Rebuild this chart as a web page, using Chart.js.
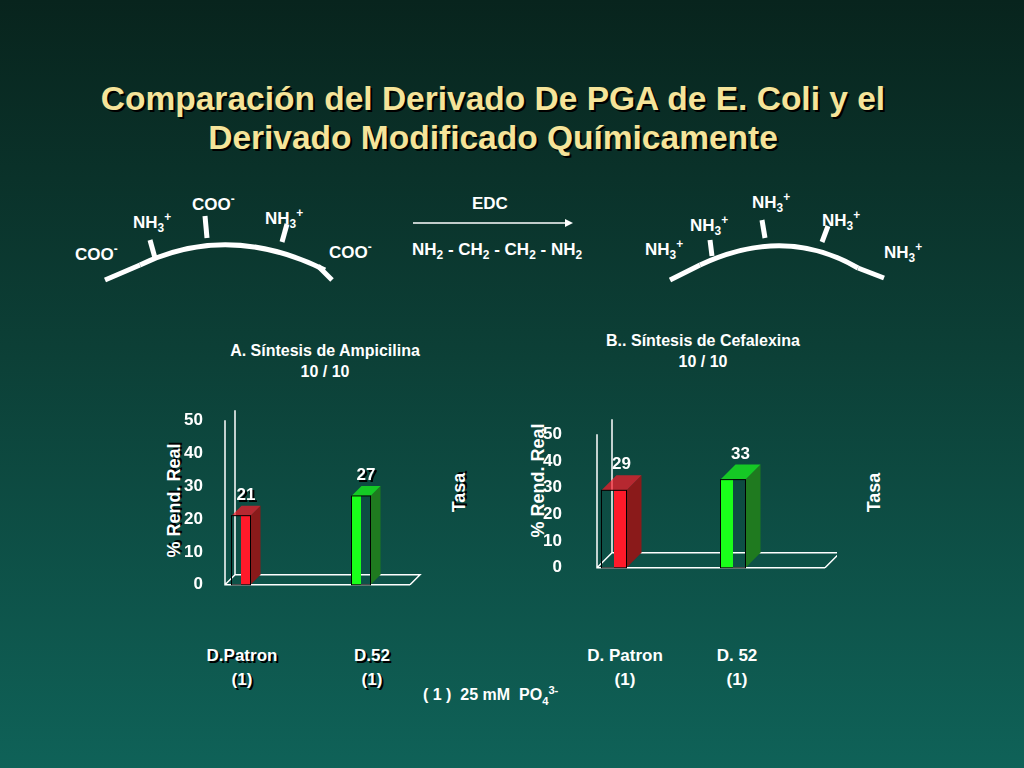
<!DOCTYPE html>
<html><head><meta charset="utf-8">
<script src="https://cdn.jsdelivr.net/npm/chart.js@4/dist/chart.umd.min.js"></script>
<style>
body{margin:0;width:1024px;height:768px;overflow:hidden;background:linear-gradient(#08241d 0%,#0c3f36 45%,#0f6258 100%);font-family:"Liberation Sans",Arial,sans-serif;position:relative;color:#fff}
.t{position:absolute;font-weight:bold;white-space:nowrap}
.sh{text-shadow:2px 2px 0 #000}
.c{position:absolute}
sub,sup{font-size:70%}
</style></head><body>
<div class="t sh" style="left:0;width:986px;top:79px;text-align:center;font-size:33.5px;line-height:39px;color:#f5e49a">Comparación del Derivado De PGA de E. Coli y el<br>Derivado Modificado Químicamente</div>
<svg class="c" style="left:0;top:180px" width="1024" height="120">
<g stroke="#fff" stroke-width="5" fill="none">
<path d="M140 85 Q228 42 325 90"/>
<line x1="105" y1="100" x2="140" y2="85"/><line x1="155" y1="78" x2="150" y2="60"/>
<line x1="207" y1="58" x2="205" y2="36"/><line x1="282" y1="62" x2="287" y2="44"/>
<line x1="318" y1="86" x2="332" y2="100"/>
<path d="M700 85 Q785 45 858 88"/>
<line x1="670" y1="100" x2="700" y2="85"/><line x1="712" y1="76" x2="710" y2="60"/>
<line x1="765" y1="58" x2="762" y2="40"/><line x1="822" y1="62" x2="828" y2="46"/>
<line x1="858" y1="88" x2="884" y2="98"/>
</g>
<line x1="413" y1="43" x2="565" y2="43" stroke="#fff" stroke-width="1.5"/>
<path d="M565 39 L573 43 L565 47 Z" fill="#fff"/>
</svg>
<div class="t" style="left:75px;top:242px;font-size:17px">COO<sup>-</sup></div>
<div class="t" style="left:133px;top:210px;font-size:17px">NH<sub>3</sub><sup>+</sup></div>
<div class="t" style="left:192px;top:192px;font-size:17px">COO<sup>-</sup></div>
<div class="t" style="left:265px;top:206px;font-size:17px">NH<sub>3</sub><sup>+</sup></div>
<div class="t" style="left:329px;top:240px;font-size:17px">COO<sup>-</sup></div>
<div class="t" style="left:472px;top:194px;font-size:17px">EDC</div>
<div class="t" style="left:412px;top:240px;font-size:17px">NH<sub>2</sub> - CH<sub>2</sub> - CH<sub>2</sub> - NH<sub>2</sub></div>
<div class="t" style="left:645px;top:237px;font-size:17px">NH<sub>3</sub><sup>+</sup></div>
<div class="t" style="left:690px;top:213px;font-size:17px">NH<sub>3</sub><sup>+</sup></div>
<div class="t" style="left:752px;top:190px;font-size:17px">NH<sub>3</sub><sup>+</sup></div>
<div class="t" style="left:822px;top:208px;font-size:17px">NH<sub>3</sub><sup>+</sup></div>
<div class="t" style="left:884px;top:240px;font-size:17px">NH<sub>3</sub><sup>+</sup></div>

<div class="t" style="left:170px;width:310px;top:340px;text-align:center;font-size:16px;line-height:21px">A. Síntesis de Ampicilina<br>10 / 10</div>
<div class="t" style="left:548px;width:310px;top:330px;text-align:center;font-size:16px;line-height:21px">B.. Síntesis de Cefalexina<br>10 / 10</div>
<div class="t sh" style="left:117px;top:490px;font-size:18px;transform:rotate(-90deg)">% Rend. Real</div>
<div class="t" style="left:478px;top:470px;font-size:18px;transform:rotate(-90deg);width:120px;text-align:center">% Rend. Real</div>
<div class="t sh" style="left:440px;top:482px;font-size:18px;transform:rotate(-90deg)">Tasa</div>
<div class="t" style="left:855px;top:482px;font-size:18px;transform:rotate(-90deg)">Tasa</div>
<div class="t sh" style="left:187px;width:110px;top:644px;text-align:center;font-size:17px;line-height:24px">D.Patron<br>(1)</div>
<div class="t sh" style="left:317px;width:110px;top:644px;text-align:center;font-size:17px;line-height:24px">D.52<br>(1)</div>
<div class="t" style="left:570px;width:110px;top:644px;text-align:center;font-size:17px;line-height:24px">D. Patron<br>(1)</div>
<div class="t" style="left:682px;width:110px;top:644px;text-align:center;font-size:17px;line-height:24px">D. 52<br>(1)</div>
<div class="t" style="left:423px;top:684px;font-size:16px">( 1 )&nbsp; 25 mM&nbsp; PO<sub>4</sub><sup>3-</sup></div>

<canvas id="a" class="c" style="left:150px;top:380px"></canvas>
<canvas id="b" class="c" style="left:520px;top:380px"></canvas>
<script>
const categories=['D.Patron','D.52'];
const valuesA=[21,27];
const valuesB=[29,33];
const yTicks=[0,10,20,30,40,50];
const barColors=['#ff1a2a','#1aff1a'];
const sideColors=['#8a1a1a','#1f7a1f'];
const threeD={id:'threeD',beforeDatasetsDraw(ch,args,o){
  const {ctx,chartArea:a}=ch;const d=o.depth,L=a.left-o.ml,R=a.right+o.mr;ctx.save();ctx.strokeStyle='#fff';ctx.lineWidth=1.5;
  ctx.beginPath();ctx.moveTo(L,a.top);ctx.lineTo(L,a.bottom);ctx.lineTo(R,a.bottom);
  ctx.moveTo(L,a.bottom);ctx.lineTo(L+d,a.bottom-d);ctx.lineTo(L+d,a.top-d);
  ctx.moveTo(L+d,a.bottom-d);ctx.lineTo(R+d,a.bottom-d);ctx.lineTo(R,a.bottom);ctx.stroke();ctx.restore();},
 afterDatasetsDraw(ch,args,o){
  const {ctx}=ch;const d=o.depth;const m=ch.getDatasetMeta(0);ctx.save();
  m.data.forEach((b,i)=>{const l=b.x-b.width/2,r=b.x+b.width/2;
   ctx.fillStyle=sideColors[i];ctx.beginPath();ctx.moveTo(r,b.y);ctx.lineTo(r+d,b.y-d);ctx.lineTo(r+d,b.base-d);ctx.lineTo(r,b.base);ctx.fill();
   ctx.fillStyle=barColors[i];ctx.globalAlpha=.7;ctx.beginPath();ctx.moveTo(l,b.y);ctx.lineTo(l+d,b.y-d);ctx.lineTo(r+d,b.y-d);ctx.lineTo(r,b.y);ctx.fill();ctx.globalAlpha=1;
   ctx.strokeStyle='#000';ctx.lineWidth=1;ctx.strokeRect(l,b.y,b.width,b.base-b.y);
   ctx.fillStyle='#fff';ctx.font='bold 17px Liberation Sans';ctx.textAlign='center';
   if(o.shadow){ctx.fillStyle='#000';ctx.fillText(ch.data.datasets[0].data[i],b.x+d/2+2,b.y-d-4);ctx.fillStyle='#fff';}
   ctx.fillText(ch.data.datasets[0].data[i],b.x+d/2,b.y-d-6);});
  ctx.restore();}};
function make(id,w,h,vals,bt,cfg){
 const c=document.getElementById(id);c.width=w;c.height=h;
 new Chart(c,{type:'bar',data:{labels:categories,datasets:[{data:vals,backgroundColor:barColors,barThickness:bt}]},
  options:{responsive:false,animation:false,layout:{padding:{top:17,bottom:7,right:cfg.pr}},
   plugins:{legend:{display:false},tooltip:{enabled:false},threeD:cfg},
   scales:{x:{display:false,offset:false},y:{min:0,max:50,afterFit:s=>{s.width=cfg.yw},afterBuildTicks:s=>{s.ticks=yTicks.map(v=>({value:v}))},grid:{display:false},border:{display:false},
    ticks:{color:'#fff',font:{size:17,weight:'bold',family:'Liberation Sans'},padding:cfg.tp}}}},plugins:[threeD]});
}
make('a',273,245,valuesA,19,{yw:91,tp:30,pr:62,ml:16,mr:49,depth:10,shadow:true});
make('b',317,242,valuesB,25,{yw:94,tp:44,pr:104,ml:17,mr:92,depth:15,shadow:false});
</script>
</body></html>
